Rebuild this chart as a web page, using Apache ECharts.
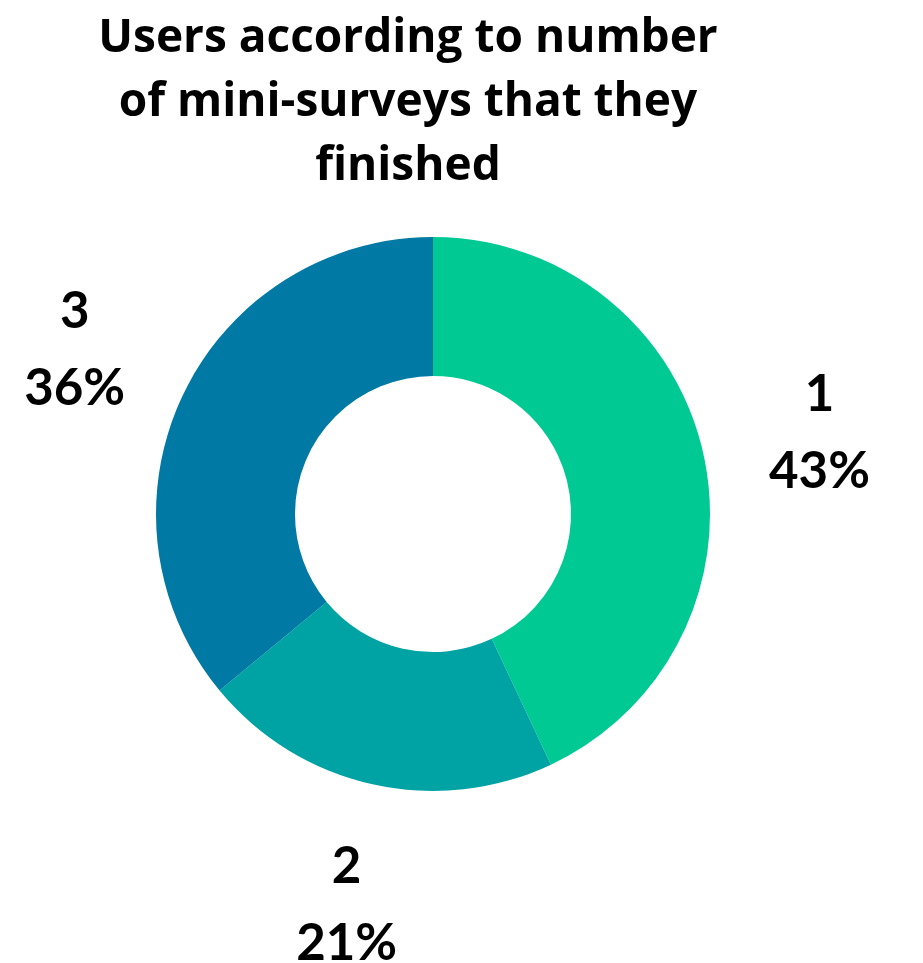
<!DOCTYPE html>
<html>
<head>
<meta charset="utf-8">
<script src="https://cdn.jsdelivr.net/npm/echarts@6/dist/echarts.min.js"></script>
<style>
  html, body { margin: 0; padding: 0; background: #ffffff; }
  #chart { width: 923px; height: 963px; }
</style>
</head>
<body>
<div id="chart"></div>
<script>
// Number of mini-surveys finished, and share of users for each
const categories = ['1', '2', '3'];
const shares = [43, 21, 36];
const colors = ['#00C994', '#00A3A3', '#0079A4'];
const titleText = 'Users according to number\nof mini-surveys that they\nfinished';

const titleFont = '"Open Sans", Lato, sans-serif';
const labelFont = 'Lato, "Open Sans", sans-serif';
const pieData = categories.map((c, i) => ({
  name: c,
  value: shares[i],
  itemStyle: { color: colors[i] }
}));

const chart = echarts.init(document.getElementById('chart'), null, { renderer: 'canvas' });
chart.setOption({
  backgroundColor: '#ffffff',
  animation: false,
  title: {
    text: titleText,
    left: 403,
    top: 2,
    textAlign: 'center',
    textStyle: {
      fontFamily: titleFont,
      fontWeight: 'bold',
      fontSize: 46,
      lineHeight: 64,
      color: '#000000'
    }
  },
  series: [
    {
      // the donut itself
      type: 'pie',
      center: [433, 514],
      radius: [138, 277],
      startAngle: 90,
      clockwise: true,
      silent: true,
      label: { show: false },
      labelLine: { show: false },
      data: pieData
    },
    {
      // transparent ring whose inside labels sit well outside the donut
      type: 'pie',
      center: [433, 514],
      radius: [386, 400],
      startAngle: 90,
      clockwise: true,
      silent: true,
      itemStyle: { color: 'rgba(0,0,0,0)' },
      label: {
        show: true,
        position: 'inside',
        formatter: '{b}\n{d}%',
        fontFamily: labelFont,
        fontWeight: 'bold',
        fontSize: 51,
        lineHeight: 77,
        offset: [0, 5],
        color: '#000000',
        align: 'center'
      },
      labelLine: { show: false },
      data: categories.map((c, i) => ({
        name: c,
        value: shares[i],
        itemStyle: { color: 'rgba(0,0,0,0)' }
      }))
    }
  ]
});
</script>
</body>
</html>
